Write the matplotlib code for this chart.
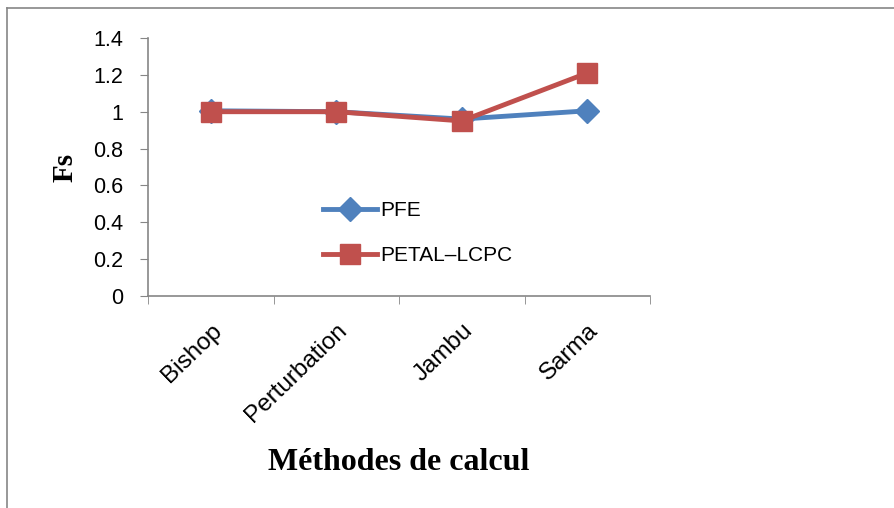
import numpy as np
import matplotlib.pyplot as plt
from matplotlib.lines import Line2D

# data
methods = ["Bishop", "Perturbation", "Jambu", "Sarma"]
pfe = [1.005, 1.0, 0.96, 1.005]
petal = [1.0, 1.0, 0.95, 1.21]
yticks = [0, 0.2, 0.4, 0.6, 0.8, 1, 1.2, 1.4]

plt.rcParams['font.family'] = ['Liberation Sans', 'DejaVu Sans']

fig = plt.figure(figsize=(8.95, 5.08), dpi=100)
ax = fig.add_axes([0.1654, 0.4173, 0.5609, 0.5079])

x = np.arange(len(methods))
ax.plot(x, pfe, color="#4F81BD", lw=3.5, marker="D", ms=12, label="PFE")
ax.plot(x, petal, color="#C0504D", lw=3.5, marker="s", ms=14.5, label="PETAL\u2013LCPC")

ax.set_xlim(-0.5, len(methods) - 0.5)
ax.set_ylim(0, 1.4)
ax.set_yticks(yticks)
ax.set_yticklabels([f"{v:g}" for v in yticks], fontsize=15.5)
ax.set_xticks(x)
ax.set_xticklabels(methods, fontsize=17.5, rotation=44, ha="right", va="top",
                   rotation_mode="anchor")
ax.set_xticks(np.arange(-0.5, len(methods)), minor=True)
ax.tick_params(axis="x", which="major", length=0, pad=17)
ax.tick_params(axis="x", which="minor", length=6, color="#868686", direction="out")
ax.tick_params(axis="y", length=6, color="#868686", direction="out", pad=12)

for s in ["top", "right"]:
    ax.spines[s].set_visible(False)
for s in ["left", "bottom"]:
    ax.spines[s].set_color("#868686")
    ax.spines[s].set_linewidth(1.2)

ax.set_ylabel("Fs", family="Liberation Serif", fontweight="bold", fontsize=21, labelpad=10)
fig.text(0.446, 0.09, "Méthodes de calcul", family="Liberation Serif",
         fontweight="bold", fontsize=23, ha="center", va="center")

ax.legend(loc="upper left", bbox_to_anchor=(0.312, 0.44), frameon=False,
          fontsize=15, handlelength=2.55, labelspacing=1.25, handletextpad=0.2)

# outer border of the chart area
fig.add_artist(Line2D([7 / 895, 1.0], [1 - 8 / 508, 1 - 8 / 508], color="#868686", lw=1.2))
fig.add_artist(Line2D([7 / 895, 7 / 895], [0, 1 - 8 / 508], color="#868686", lw=1.2))

fig.savefig("out.png", dpi=100)
